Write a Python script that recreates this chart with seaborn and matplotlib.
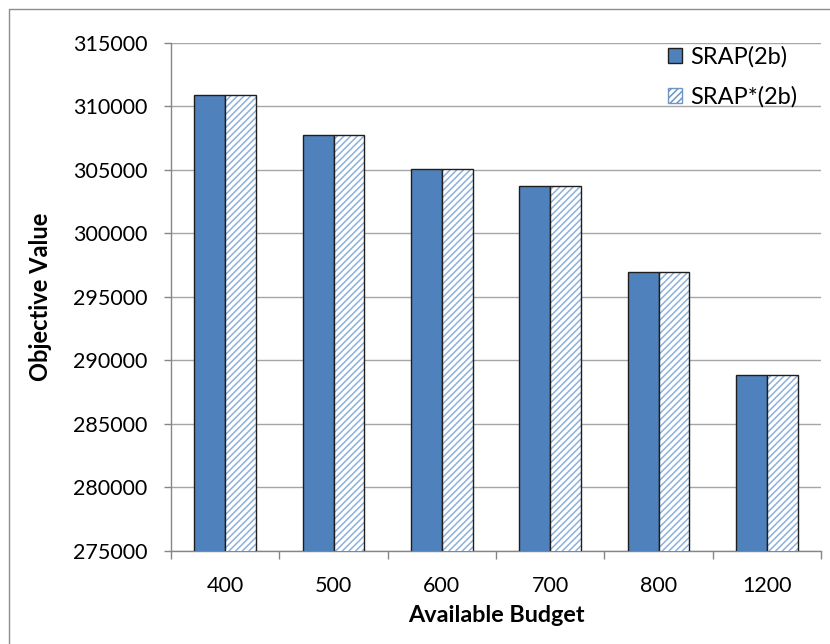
import matplotlib
matplotlib.use("Agg")
import matplotlib.pyplot as plt
from matplotlib.patches import Patch, Rectangle
from matplotlib.lines import Line2D
import seaborn as sns
import pandas as pd

budgets = ["400", "500", "600", "700", "800", "1200"]
srap = [310870, 307750, 305070, 303700, 296950, 288870]
srap_star = [310870, 307750, 305070, 303700, 296950, 288870]
series_names = ["SRAP(2b)", "SRAP*(2b)"]
y_ticks = list(range(275000, 315001, 5000))

solid_blue = "#4F81BD"
hatch_blue = "#8DB0DB"
edge_dark = "#1E1E1E"
grid_gray = "#A6A6A6"

df = pd.DataFrame({
    "Budget": budgets * 2,
    "Value": srap + srap_star,
    "Series": [series_names[0]] * len(budgets) + [series_names[1]] * len(budgets),
})

sns.set_theme(style="white")
plt.rcParams["font.family"] = ["Lato", "DejaVu Sans"]
plt.rcParams["hatch.linewidth"] = 1.1
plt.rcParams["text.color"] = "black"
plt.rcParams["axes.labelcolor"] = "black"
plt.rcParams["xtick.color"] = "black"
plt.rcParams["ytick.color"] = "black"

fig = plt.figure(figsize=(8.3, 6.44), dpi=100)
ax = fig.add_axes([171 / 830, 93.3 / 644, (821 - 171) / 830, (601.3 - 93.3) / 644])

sns.barplot(data=df, x="Budget", y="Value", hue="Series", order=budgets,
            hue_order=series_names, palette=[solid_blue, "white"],
            width=0.57, saturation=1, ax=ax, legend=False, zorder=3)

n = len(budgets)
for i, p in enumerate(ax.patches[:2 * n]):
    if i < n:
        p.set_edgecolor(edge_dark)
        p.set_linewidth(1.0)
    else:
        # hatch takes the edge colour, so outline separately
        p.set_facecolor("white")
        p.set_edgecolor(hatch_blue)
        p.set_hatch("/////")
        p.set_linewidth(0)
        ax.add_patch(Rectangle((p.get_x(), p.get_y()), p.get_width(), p.get_height(),
                               fill=False, edgecolor=edge_dark, linewidth=1.0, zorder=4))

ax.set_ylim(275000, 315000)
ax.set_yticks(y_ticks)
ax.set_yticklabels([str(v) for v in y_ticks])
ax.set_xlim(-0.5, n - 0.5)
ax.set_xticks(range(n))
ax.set_xticklabels(budgets)
ax.yaxis.grid(True, color=grid_gray, linewidth=1.0, zorder=0)
ax.set_axisbelow(True)

for s in ["top", "right"]:
    ax.spines[s].set_visible(False)
for s in ["left", "bottom"]:
    ax.spines[s].set_color("#868686")
    ax.spines[s].set_linewidth(1.0)

ax.tick_params(axis="y", which="major", length=5, width=1, color="#868686",
               direction="out", left=True, labelsize=15.5, pad=12)
ax.tick_params(axis="x", which="major", length=0, labelsize=15.5, pad=18)
# category boundary ticks on the x axis
ax.set_xticks([i - 0.5 for i in range(n + 1)], minor=True)
ax.tick_params(axis="x", which="minor", length=6, width=1, color="#868686",
               direction="out", bottom=True)

ax.set_xlabel("Available Budget", fontsize=16.8, fontweight="bold", labelpad=7)
ax.set_ylabel("Objective Value", fontsize=17, fontweight="bold", labelpad=15)

handles = [
    Patch(facecolor=solid_blue, edgecolor=edge_dark, linewidth=1.0),
    Patch(facecolor="white", edgecolor="#6F95C6", hatch="/////", linewidth=1.0),
]
fig.legend(handles, series_names, loc="upper left",
           bbox_to_anchor=(668 / 830, 1 - 46 / 644), bbox_transform=fig.transFigure,
           frameon=False, fontsize=17, handlelength=0.6, handleheight=0.6,
           handletextpad=0.34, labelspacing=0.78, borderaxespad=0, borderpad=0)

# outer chart frame
fig.add_artist(Line2D([9 / 830, 9 / 830], [0, 1 - 9 / 644], color="#8C8C8C", linewidth=1.0))
fig.add_artist(Line2D([9 / 830, 1], [1 - 9 / 644, 1 - 9 / 644], color="#8C8C8C", linewidth=1.0))

fig.savefig("out.png", dpi=100, facecolor="white")
